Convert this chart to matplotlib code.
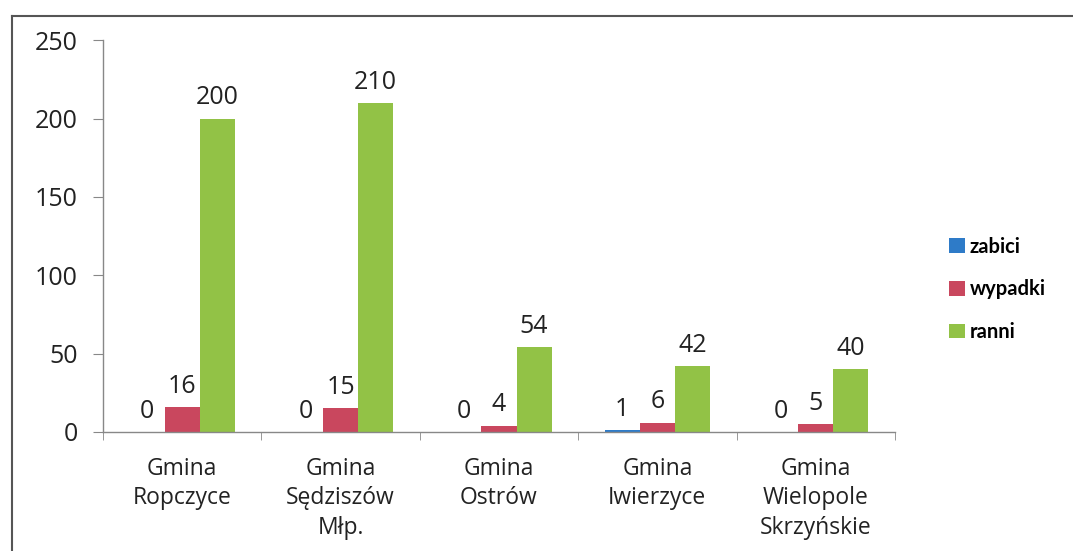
import matplotlib.pyplot as plt
import numpy as np
from matplotlib.lines import Line2D

# dane
gminy = ['Gmina\nRopczyce', 'Gmina\nSędziszów\nMłp.', 'Gmina\nOstrów',
         'Gmina\nIwierzyce', 'Gmina\nWielopole\nSkrzyńskie']
zabici = [0, 0, 0, 1, 0]
wypadki = [16, 15, 4, 6, 5]
ranni = [200, 210, 54, 42, 40]

serie = ['zabici', 'wypadki', 'ranni']
kolory = ['#2E7BC8', '#C9475E', '#92C246']

plt.rcParams['font.family'] = ['Open Sans', 'DejaVu Sans']

fig = plt.figure(figsize=(10.73, 5.51), dpi=100)
ax = fig.add_axes([0.096, 0.216, 0.738, 0.711])

x = np.arange(len(gminy))
w = 0.222
for i, (vals, kol, nazwa) in enumerate(zip([zabici, wypadki, ranni], kolory, serie)):
    pos = x + (i - 1) * w
    ax.bar(pos, vals, width=w, color=kol, label=nazwa, zorder=2)
    for px, v in zip(pos, vals):
        ax.annotate(str(v), (px, v), xytext=(0, 6), textcoords='offset points',
                    ha='center', va='bottom', fontsize=18, color='#222222')

ax.set_xlim(-0.5, len(gminy) - 0.5)
ax.set_ylim(0, 250)
ax.set_yticks(range(0, 251, 50))
ax.set_xticks(x)
ax.set_xticklabels(gminy, fontsize=16.5, color='#222222', linespacing=1.3)
ax.tick_params(axis='x', length=0, pad=18)
ax.set_xticks(np.arange(-0.5, len(gminy), 1), minor=True)
ax.tick_params(axis='x', which='minor', length=6, color='#888888', direction='out')
ax.tick_params(axis='y', length=7, color='#888888', labelsize=18, labelcolor='#222222', pad=11)

for s in ['top', 'right']:
    ax.spines[s].set_visible(False)
for s in ['left', 'bottom']:
    ax.spines[s].set_color('#888888')
    ax.spines[s].set_linewidth(1)

leg = fig.legend(loc='upper left', bbox_to_anchor=(0.868, 0.603), frameon=False,
                 handlelength=0.75, handleheight=0.75, handletextpad=0.25,
                 labelspacing=1.12, prop={'family': 'Lato', 'weight': 'bold', 'size': 14.5})

# ramka wykresu
fig.add_artist(Line2D([12 / 1073, 1], [1 - 16 / 551, 1 - 16 / 551], color='#555555', lw=1.5))
fig.add_artist(Line2D([12 / 1073, 12 / 1073], [0, 1 - 16 / 551], color='#555555', lw=1.5))

plt.savefig('out.png', dpi=100)
